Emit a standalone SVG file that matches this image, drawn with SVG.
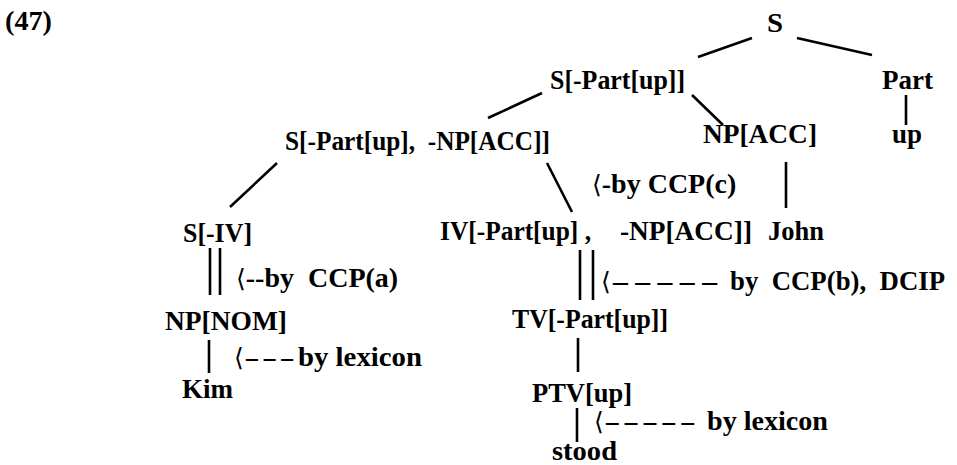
<svg xmlns="http://www.w3.org/2000/svg" width="957" height="465" viewBox="0 0 957 465">
  <style>
    text { font-family: "Liberation Serif", "DejaVu Serif", serif; font-weight: bold; font-size: 28px; fill: #000; white-space: pre; }
    .arw { font-family: "DejaVu Sans", "Liberation Serif", serif; font-weight: normal; font-size: 25px; }
    .edge { stroke: #000; stroke-width: 2.6; stroke-linecap: butt; fill: none; }
  </style>
  <rect width="957" height="465" fill="#fff"/>

  <text x="5" y="30" textLength="47" lengthAdjust="spacingAndGlyphs">(47)</text>

  <!-- tree nodes -->
  <g id="n-s"><text x="767" y="32" textLength="16" lengthAdjust="spacingAndGlyphs">S</text></g>
  <g id="n-s-part"><text x="550" y="89" textLength="135" lengthAdjust="spacingAndGlyphs">S[-Part[up]]</text></g>
  <g id="n-part"><text x="882" y="89" textLength="51" lengthAdjust="spacingAndGlyphs">Part</text></g>
  <g id="n-up"><text x="892" y="143" textLength="30" lengthAdjust="spacingAndGlyphs">up</text></g>
  <g id="n-np-acc"><text x="703" y="143" textLength="114" lengthAdjust="spacingAndGlyphs">NP[ACC]</text></g>
  <g id="n-s-part-np"><text x="285" y="150" textLength="265" lengthAdjust="spacingAndGlyphs">S[-Part[up],  -NP[ACC]]</text></g>
  <g id="n-s-iv"><text x="183" y="242" textLength="69" lengthAdjust="spacingAndGlyphs">S[-IV]</text></g>
  <g id="n-iv">
    <text x="440" y="240" textLength="151" lengthAdjust="spacingAndGlyphs">IV[-Part[up] ,</text>
    <text x="620" y="240" textLength="132" lengthAdjust="spacingAndGlyphs">-NP[ACC]]</text>
  </g>
  <g id="n-john"><text x="768" y="240" textLength="56" lengthAdjust="spacingAndGlyphs">John</text></g>
  <g id="n-np-nom"><text x="165" y="330" textLength="122" lengthAdjust="spacingAndGlyphs">NP[NOM]</text></g>
  <g id="n-kim"><text x="182" y="398" textLength="51" lengthAdjust="spacingAndGlyphs">Kim</text></g>
  <g id="n-tv"><text x="512" y="328" textLength="156" lengthAdjust="spacingAndGlyphs">TV[-Part[up]]</text></g>
  <g id="n-ptv"><text x="532" y="402" textLength="100" lengthAdjust="spacingAndGlyphs">PTV[up]</text></g>
  <g id="n-stood"><text x="552" y="460" textLength="65" lengthAdjust="spacingAndGlyphs">stood</text></g>

  <!-- derivation notes -->
  <g id="notes">
    <text x="592" y="193"><tspan class="arw">⟨</tspan><tspan>-by CCP(c)</tspan></text>
    <text x="236" y="287"><tspan class="arw">⟨</tspan><tspan>--by  CCP(a)</tspan></text>
    <text class="arw" x="601" y="290">⟨</text>
    <text x="613" y="290" textLength="104" lengthAdjust="spacingAndGlyphs">– – – – –</text>
    <text x="730" y="290" textLength="215" lengthAdjust="spacingAndGlyphs">by  CCP(b),  DCIP</text>
    <text class="arw" x="234" y="366">⟨</text>
    <text x="246" y="366" textLength="47" lengthAdjust="spacingAndGlyphs">– – –</text>
    <text x="298" y="366" textLength="124" lengthAdjust="spacingAndGlyphs">by lexicon</text>
    <text class="arw" x="594" y="430">⟨</text>
    <text x="606" y="430" textLength="88" lengthAdjust="spacingAndGlyphs">– – – – –</text>
    <text x="707" y="430" textLength="121" lengthAdjust="spacingAndGlyphs">by lexicon</text>
  </g>

  <!-- connectors -->
  <g id="edges" class="edge">
    <line x1="698" y1="57" x2="752" y2="38"/>
    <line x1="797" y1="38" x2="872" y2="55"/>
    <line x1="906" y1="95" x2="906" y2="125"/>
    <line x1="488" y1="118" x2="542" y2="93"/>
    <line x1="692" y1="95" x2="723" y2="125"/>
    <line x1="230" y1="207" x2="277" y2="163"/>
    <line x1="547" y1="163" x2="572" y2="212"/>
    <line x1="786" y1="162" x2="786" y2="208"/>
    <line x1="210" y1="248" x2="210" y2="295"/>
    <line x1="220" y1="248" x2="220" y2="295"/>
    <line x1="580" y1="250" x2="580" y2="300"/>
    <line x1="593" y1="250" x2="593" y2="300"/>
    <line x1="209" y1="340" x2="209" y2="373"/>
    <line x1="578" y1="338" x2="578" y2="372"/>
    <line x1="577" y1="408" x2="577" y2="442"/>
  </g>
</svg>
